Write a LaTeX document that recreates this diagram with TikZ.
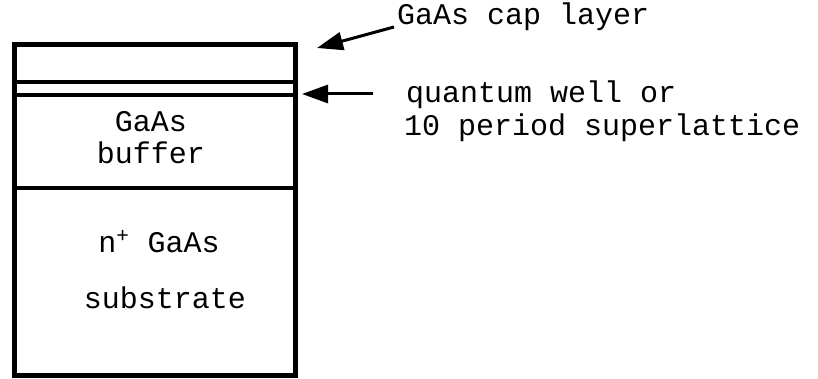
\documentclass[tikz,border=0pt]{standalone}
\usepackage{fontspec}
\setmonofont{Liberation Mono}
\usetikzlibrary{arrows.meta}
\begin{document}
\begin{tikzpicture}[x=1pt,y=-1pt,
  lbl/.style={font=\ttfamily\fontsize{30}{33}\selectfont, inner sep=0pt},
  ptr/.style={line width=3pt, -{Triangle[length=26pt,width=18pt]}},
  outer/.style={line width=5pt},
  layer/.style={line width=3.5pt}]
\useasboundingbox (0,0) rectangle (818,379);
\draw[outer] (14,45) rectangle (295,375);
\coordinate (capL) at (14,82); \coordinate (capR) at (295,82);
\coordinate (qwL) at (14,95); \coordinate (qwR) at (295,95);
\coordinate (bufL) at (14,188); \coordinate (bufR) at (295,188);
\draw[layer] (capL) -- (capR);
\draw[layer] (qwL) -- (qwR);
\draw[layer] (bufL) -- (bufR);
\node[lbl, anchor=base] (gaas) at (151,132) {GaAs};
\node[lbl, anchor=base] (buffer) at (151,164) {buffer};
\node[lbl, anchor=base] (nplus) at (159,252) {n\textsuperscript{+} GaAs};
\node[lbl, anchor=base] (substrate) at (165,308) {substrate};
\node[lbl, anchor=base west] (cap) at (397,25) {GaAs cap layer};
\node[lbl, anchor=base west] (qw1) at (406,103) {quantum well or};
\node[lbl, anchor=base west] (qw2) at (404,136) {10 period superlattice};
\coordinate (capTail) at (394,27);
\coordinate (capTip) at (317,48);
\coordinate (qwTail) at (373,94);
\coordinate (qwTip) at (302,94);
\draw[ptr] (capTail) -- (capTip);
\draw[ptr] (qwTail) -- (qwTip);
\end{tikzpicture}
\end{document}
